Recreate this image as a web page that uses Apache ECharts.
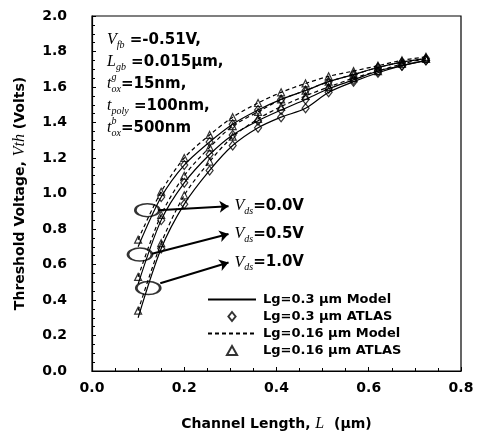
<!DOCTYPE html>
<html>
<head>
<meta charset="utf-8">
<script src="https://cdn.jsdelivr.net/npm/echarts@6/dist/echarts.min.js"></script>
<style>
html, body { margin: 0; padding: 0; background: #fff; }
#main { width: 483px; height: 437px; }
</style>
</head>
<body>
<div id="main"></div>
<script>
// channel length L (um) where the curves / ATLAS points sit
var lengths = [0.1, 0.15, 0.2, 0.255, 0.305, 0.36, 0.41, 0.463, 0.513, 0.567, 0.62, 0.672, 0.724];

// Lg = 0.16 um (dashed model + triangles)
var lg016_vds00 = [0.74, 1.01, 1.20, 1.33, 1.43, 1.51, 1.57, 1.62, 1.66, 1.69, 1.72, 1.75, 1.77];
var lg016_vds05 = [0.53, 0.88, 1.10, 1.26, 1.38, 1.46, 1.53, 1.58, 1.63, 1.67, 1.71, 1.74, 1.76];
var lg016_vds10 = [0.34, 0.72, 0.99, 1.18, 1.32, 1.42, 1.49, 1.55, 1.60, 1.65, 1.69, 1.73, 1.76];

// Lg = 0.3 um (solid model + diamonds)
var lg03_vds00 = [0.70, 0.98, 1.16, 1.29, 1.39, 1.47, 1.53, 1.58, 1.63, 1.67, 1.71, 1.74, 1.76];
var lg03_vds05 = [0.49, 0.85, 1.06, 1.22, 1.33, 1.41, 1.47, 1.53, 1.59, 1.64, 1.69, 1.72, 1.75];
var lg03_vds10 = [0.30, 0.69, 0.94, 1.13, 1.27, 1.37, 1.43, 1.48, 1.57, 1.63, 1.68, 1.72, 1.75];

var xTicks = [0, 0.2, 0.4, 0.6, 0.8];
var yTicks = [0, 0.2, 0.4, 0.6, 0.8, 1.0, 1.2, 1.4, 1.6, 1.8, 2.0];

// annotation: ellipses round each Vds group, arrows to the labels
var ellipseCenters = [[0.120, 0.906], [0.104, 0.656], [0.122, 0.467]];
var arrows = [
  [0.143, 0.906, 0.296, 0.928],
  [0.130, 0.661, 0.296, 0.772],
  [0.148, 0.494, 0.296, 0.611]
];
var vdsLabels = ['=0.0V', '=0.5V', '=1.0V'];

var SANS = '"DejaVu Sans", sans-serif';
var SERIF = '"Liberation Serif", serif';
var DIAMOND_ICON = 'path://M4,0 L8,5 L4,10 L0,5 Z';
var TRIANGLE_ICON = 'path://M4.5,0 L9,8 L0,8 Z';

function pts(vals, from) {
  from = from || 0;
  var out = [];
  for (var i = from; i < lengths.length; i++) out.push([lengths[i], vals[i]]);
  return out;
}

function model(name, vals, dashed) {
  return {
    type: 'line', name: name, data: pts(vals), symbol: 'none', smooth: 0.3,
    lineStyle: { color: '#000', width: 1.2, type: dashed ? [4, 3] : 'solid' },
    itemStyle: { color: '#000' }, z: 2, silent: true
  };
}

function atlas(name, vals, sym, from) {
  return {
    type: 'scatter', name: name, data: pts(vals, from), symbol: sym,
    symbolSize: sym === 'diamond' ? [7, 9] : 7,
    itemStyle: { color: 'rgba(255,255,255,0)', borderColor: '#000', borderWidth: 1.2 },
    z: 3, silent: true
  };
}

var chart = echarts.init(document.getElementById('main'));

var hiddenSymbol = { opacity: 0 };
var option = {
  animation: false,
  grid: { left: 92, right: 22, top: 16, bottom: 61, show: true, borderColor: '#000', borderWidth: 1.2 },
  xAxis: {
    type: 'value', min: 0, max: 0.8, interval: 0.2,
    name: '{b|Channel Length, }{i|L}{b|  (\u03bcm)}',
    nameLocation: 'middle', nameGap: 45,
    nameTextStyle: {
      rich: {
        b: { fontFamily: SANS, fontWeight: 'bold', fontSize: 14, color: '#000' },
        i: { fontFamily: SERIF, fontStyle: 'italic', fontSize: 16, color: '#000' }
      }
    },
    axisLine: { lineStyle: { color: '#000', width: 1.2 } },
    axisTick: { inside: true, length: 4, lineStyle: { color: '#000' } },
    minorTick: { show: true, splitNumber: 4, length: 3, lineStyle: { color: '#000' } },
    splitLine: { show: false },
    axisLabel: {
      margin: 10, fontFamily: SANS, fontWeight: 'bold', fontSize: 14, color: '#000',
      formatter: function (v) { return xTicks.indexOf(v) >= 0 ? v.toFixed(1) : ''; }
    }
  },
  yAxis: {
    type: 'value', min: 0, max: 2.0, interval: 0.2,
    name: '{b|Threshold Voltage, }{i|Vth}{b| (Volts)}',
    nameLocation: 'middle', nameGap: 64, nameRotate: 90,
    nameTextStyle: {
      rich: {
        b: { fontFamily: SANS, fontWeight: 'bold', fontSize: 14, color: '#000' },
        i: { fontFamily: SERIF, fontStyle: 'italic', fontSize: 16, color: '#000' }
      }
    },
    axisLine: { lineStyle: { color: '#000', width: 1.2 } },
    axisTick: { inside: true, length: 4, lineStyle: { color: '#000' } },
    minorTick: { show: true, splitNumber: 4, length: 3, lineStyle: { color: '#000' } },
    splitLine: { show: false },
    axisLabel: {
      margin: 25, fontFamily: SANS, fontWeight: 'bold', fontSize: 14, color: '#000',
      formatter: function (v) { return yTicks.indexOf(+v.toFixed(1)) >= 0 ? v.toFixed(1) : ''; }
    }
  },
  legend: {
    orient: 'vertical', left: 207, top: 293, itemWidth: 48, itemHeight: 9, itemGap: 4,
    padding: 0, selectedMode: false, symbolKeepAspect: true,
    textStyle: { fontFamily: SANS, fontWeight: 'bold', fontSize: 13, lineHeight: 13, color: '#000', padding: [0, 0, 0, 2] },
    data: [
      { name: 'Lg=0.3 \u03bcm Model', itemStyle: hiddenSymbol },
      { name: 'Lg=0.3 \u03bcm ATLAS', icon: DIAMOND_ICON },
      { name: 'Lg=0.16 \u03bcm Model', itemStyle: hiddenSymbol },
      { name: 'Lg=0.16 \u03bcm ATLAS', icon: TRIANGLE_ICON }
    ]
  },
  series: [
    model('Lg=0.3 \u03bcm Model', lg03_vds00, false),
    model('Lg=0.3 \u03bcm Model', lg03_vds05, false),
    model('Lg=0.3 \u03bcm Model', lg03_vds10, false),
    model('Lg=0.16 \u03bcm Model', lg016_vds00, true),
    model('Lg=0.16 \u03bcm Model', lg016_vds05, true),
    model('Lg=0.16 \u03bcm Model', lg016_vds10, true),
    atlas('Lg=0.3 \u03bcm ATLAS', lg03_vds00, 'diamond', 1),
    atlas('Lg=0.3 \u03bcm ATLAS', lg03_vds05, 'diamond', 1),
    atlas('Lg=0.3 \u03bcm ATLAS', lg03_vds10, 'diamond', 1),
    atlas('Lg=0.16 \u03bcm ATLAS', lg016_vds00, 'triangle', 0),
    atlas('Lg=0.16 \u03bcm ATLAS', lg016_vds05, 'triangle', 0),
    atlas('Lg=0.16 \u03bcm ATLAS', lg016_vds10, 'triangle', 0),
    {
      type: 'scatter', name: 'groups', data: ellipseCenters, symbol: 'circle', symbolSize: [24, 13],
      itemStyle: { color: 'rgba(255,255,255,0)', borderColor: '#000', borderWidth: 2 },
      z: 4, silent: true,
      markLine: {
        silent: true, symbol: ['none', 'arrow'], symbolSize: 9, animation: false,
        label: { show: false },
        lineStyle: { color: '#000', width: 2, type: 'solid' },
        data: arrows.map(function (a) { return [{ coord: [a[0], a[1]] }, { coord: [a[2], a[3]] }]; })
      }
    }
  ]
};
chart.setOption(option);

// text with italic variables and sub/superscripts
var ctx = document.createElement('canvas').getContext('2d');
function textWidth(t, f) { ctx.font = f; return ctx.measureText(t).width; }
var F_VAR = 'italic 16px "Liberation Serif"';
var F_SUB = 'italic 10px "Liberation Serif"';
var F_TXT = 'bold 15px "DejaVu Sans"';

function mathText(x, y, parts) {
  var kids = [];
  var cx = 0;
  parts.forEach(function (p) {
    kids.push({
      type: 'text', x: cx, y: p.dy || 0,
      style: { text: p.t, font: p.f, fill: '#000', verticalAlign: 'middle' }
    });
    if (!p.stay) cx += textWidth(p.t, p.f);
  });
  return { type: 'group', x: x, y: y, children: kids, silent: true };
}

var graphics = [
  mathText(107, 40, [{ t: 'V', f: F_VAR }, { t: 'fb', f: F_SUB, dy: 5 }, { t: ' =-0.51V,', f: F_TXT }]),
  mathText(107, 62, [{ t: 'L', f: F_VAR }, { t: 'gb', f: F_SUB, dy: 5 }, { t: ' =0.015\u03bcm,', f: F_TXT }]),
  mathText(107, 84, [{ t: 't', f: F_VAR }, { t: 'g', f: F_SUB, dy: -7, stay: true }, { t: 'ox', f: F_SUB, dy: 5 }, { t: '=15nm,', f: F_TXT }]),
  mathText(107, 106, [{ t: 't', f: F_VAR }, { t: 'poly', f: F_SUB, dy: 5 }, { t: ' =100nm,', f: F_TXT }]),
  mathText(107, 128, [{ t: 't', f: F_VAR }, { t: 'b', f: F_SUB, dy: -7, stay: true }, { t: 'ox', f: F_SUB, dy: 5 }, { t: '=500nm', f: F_TXT }])
];

arrows.forEach(function (a, i) {
  var p = chart.convertToPixel({ gridIndex: 0 }, [a[2], a[3]]);
  graphics.push(mathText(p[0] + 6, p[1], [{ t: 'V', f: F_VAR }, { t: 'ds', f: F_SUB, dy: 5 }, { t: vdsLabels[i], f: F_TXT }]));
});

chart.setOption({ graphic: graphics });
</script>
</body>
</html>
